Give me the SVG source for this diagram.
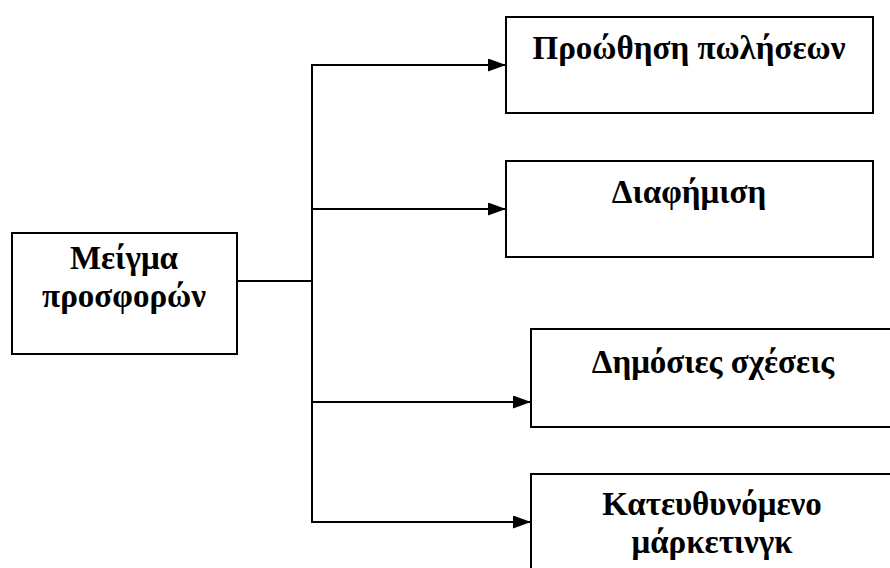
<svg xmlns="http://www.w3.org/2000/svg" width="890" height="568" viewBox="0 0 890 568">
<defs>
<marker id="arr" viewBox="0 0 18 13" refX="18" refY="6.5" markerWidth="18" markerHeight="13" markerUnits="userSpaceOnUse" orient="auto">
<path d="M0,0 L18,6.5 L0,13 Z" fill="#000"/>
</marker>
</defs>
<style>
.box{fill:#fff;stroke:#000;stroke-width:2}
.lbl{font-family:"Liberation Serif","Times New Roman",serif;font-weight:bold;font-size:33px;fill:#000;text-anchor:middle}
.ln{fill:none;stroke:#000;stroke-width:2}
</style>
<rect width="890" height="568" fill="#fff"/>
<g id="connectors">
<line class="ln" x1="237" y1="281" x2="312" y2="281"/>
<line class="ln" x1="312" y1="65" x2="312" y2="523"/>
<line class="ln" x1="311" y1="65" x2="506" y2="65" marker-end="url(#arr)"/>
<line class="ln" x1="311" y1="209" x2="506" y2="209" marker-end="url(#arr)"/>
<line class="ln" x1="311" y1="402" x2="531" y2="402" marker-end="url(#arr)"/>
<line class="ln" x1="311" y1="522" x2="531" y2="522" marker-end="url(#arr)"/>
</g>
<g id="mix">
<rect class="box" x="12" y="233" width="225" height="121"/>
<text class="lbl" x="124" y="269">Μείγμα</text>
<text class="lbl" x="124" y="307">προσφορών</text>
</g>
<g id="sales">
<rect class="box" x="506" y="17" width="367" height="96"/>
<text class="lbl" x="689" y="59">Προώθηση πωλήσεων</text>
</g>
<g id="ads">
<rect class="box" x="506" y="161" width="367" height="96"/>
<text class="lbl" x="689" y="203">Διαφήμιση</text>
</g>
<g id="pr">
<rect class="box" x="531" y="329" width="364" height="98"/>
<text class="lbl" x="713" y="373">Δημόσιες σχέσεις</text>
</g>
<g id="direct">
<rect class="box" x="531" y="474" width="364" height="110"/>
<text class="lbl" x="712" y="515">Κατευθυνόμενο</text>
<text class="lbl" x="712" y="553">μάρκετινγκ</text>
</g>
</svg>
